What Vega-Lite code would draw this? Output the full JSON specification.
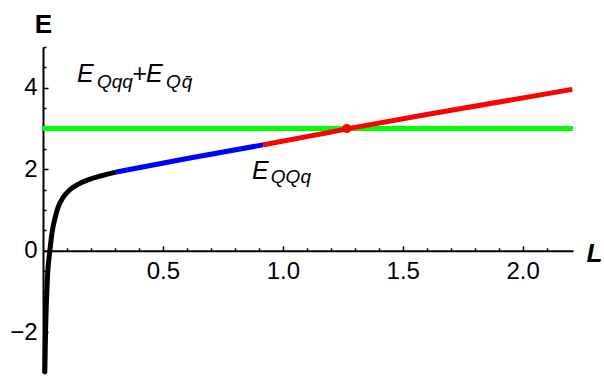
{
  "$schema": "https://vega.github.io/schema/vega-lite/v6.json",
  "width": 530,
  "height": 326,
  "autosize": "none",
  "padding": {"left": 43, "top": 47, "right": 31, "bottom": 6},
  "background": "white",
  "config": {"view": {"stroke": null}, "font": "Liberation Sans"},
  "datasets": {
    "level": [{"L0": 0, "L1": 2.21, "E": 3.0}],
    "curve": [
      {"L": 0.0075, "E": -3.0, "seg": "k"},
      {"L": 0.009, "E": -2.5, "seg": "k"},
      {"L": 0.011, "E": -1.9, "seg": "k"},
      {"L": 0.014, "E": -1.3, "seg": "k"},
      {"L": 0.018, "E": -0.72, "seg": "k"},
      {"L": 0.022, "E": -0.35, "seg": "k"},
      {"L": 0.025, "E": -0.19, "seg": "k"},
      {"L": 0.029, "E": 0.02, "seg": "k"},
      {"L": 0.0375, "E": 0.44, "seg": "k"},
      {"L": 0.049, "E": 0.77, "seg": "k"},
      {"L": 0.0625, "E": 1.06, "seg": "k"},
      {"L": 0.083, "E": 1.3, "seg": "k"},
      {"L": 0.111, "E": 1.49, "seg": "k"},
      {"L": 0.146, "E": 1.63, "seg": "k"},
      {"L": 0.1875, "E": 1.74, "seg": "k"},
      {"L": 0.243, "E": 1.84, "seg": "k"},
      {"L": 0.305, "E": 1.93, "seg": "k"},
      {"L": 0.305, "E": 1.93, "seg": "b"},
      {"L": 0.6125, "E": 2.275, "seg": "b"},
      {"L": 0.918, "E": 2.6, "seg": "b"},
      {"L": 0.918, "E": 2.6, "seg": "r"},
      {"L": 1.1, "E": 2.8, "seg": "r"},
      {"L": 1.267, "E": 2.99, "seg": "r"},
      {"L": 1.654, "E": 3.4, "seg": "r"},
      {"L": 2.207, "E": 3.96, "seg": "r"}
    ],
    "cross": [{"L": 1.267, "E": 3.0}],
    "annMain": [
      {"t": "E", "L": 0.142, "E": 4.146},
      {"t": "+", "L": 0.371, "E": 4.146},
      {"t": "E", "L": 0.429, "E": 4.146},
      {"t": "E", "L": 0.871, "E": 1.756}
    ],
    "annSub": [
      {"t": "Qqq", "L": 0.225, "E": 4.0},
      {"t": "Q", "L": 0.5125, "E": 4.0},
      {"t": "q̄", "L": 0.579, "E": 4.0},
      {"t": "QQq", "L": 0.95, "E": 1.659}
    ]
  },
  "resolve": {"axis": {"x": "independent", "y": "independent"}},
  "layer": [
    {
      "data": {"name": "level"},
      "mark": {"type": "rule", "color": "#00ff00", "strokeWidth": 5},
      "encoding": {
        "x": {
          "field": "L0", "type": "quantitative",
          "scale": {"domain": [0, 2.21], "nice": false, "zero": false},
          "axis": {
            "orient": "top",
            "offset": -203.75,
            "values": [0.5, 1, 1.5, 2],
            "format": ".1f",
            "labelOverlap": false,
            "labelFlush": false,
            "labelFontSize": 24,
            "labelColor": "black",
            "labelBaseline": "top",
            "labelPadding": -14,
            "ticks": true,
            "tickSize": 5,
            "tickColor": "black",
            "tickWidth": 1.5,
            "domainColor": "black",
            "domainWidth": 2,
            "grid": false,
            "title": "L",
            "titleFontSize": 26,
            "titleFontWeight": "bold",
            "titleFontStyle": "italic",
            "titleColor": "black",
            "titleX": 543,
            "titleY": 11,
            "titleAlign": "left",
            "titleBaseline": "alphabetic",
            "titleAngle": 0
          }
        },
        "x2": {"field": "L1"},
        "y": {
          "field": "E", "type": "quantitative",
          "scale": {"domain": [-3, 5], "nice": false, "zero": false},
          "axis": {
            "orient": "right",
            "offset": -530,
            "values": [-2, 0, 2, 4],
            "format": "d",
            "labelOverlap": false,
            "labelFlush": false,
            "labelFontSize": 24,
            "labelColor": "black",
            "labelAlign": "right",
            "labelPadding": -11,
            "ticks": true,
            "tickSize": 5,
            "tickColor": "black",
            "tickWidth": 1.5,
            "domainColor": "black",
            "domainWidth": 2,
            "grid": false,
            "title": "E",
            "titleFontSize": 26,
            "titleFontWeight": "bold",
            "titleColor": "black",
            "titleAngle": 0,
            "titleX": 0,
            "titleY": -15,
            "titleAlign": "center",
            "titleBaseline": "alphabetic"
          }
        }
      }
    },
    {
      "data": {"name": "curve"},
      "mark": {"type": "line", "strokeWidth": 5, "interpolate": "monotone"},
      "encoding": {
        "x": {
          "field": "L", "type": "quantitative",
          "axis": {
            "orient": "top",
            "offset": -203.75,
            "values": [0.1, 0.2, 0.3, 0.4, 0.6, 0.7, 0.8, 0.9, 1.1, 1.2, 1.3, 1.4, 1.6, 1.7, 1.8, 1.9, 2.1],
            "labels": false,
            "domain": false,
            "grid": false,
            "ticks": true,
            "tickSize": 3,
            "tickColor": "black",
            "tickWidth": 1.5,
            "title": null
          }
        },
        "y": {
          "field": "E", "type": "quantitative",
          "axis": {
            "orient": "right",
            "offset": -530,
            "values": [-3, -2.5, -1.5, -1, -0.5, 0.5, 1, 1.5, 2.5, 3, 3.5, 4.5, 5],
            "labels": false,
            "domain": false,
            "grid": false,
            "ticks": true,
            "tickSize": 3,
            "tickColor": "black",
            "tickWidth": 1.5,
            "title": null
          }
        },
        "color": {"field": "seg", "type": "nominal", "scale": {"domain": ["k", "b", "r"], "range": ["#000000", "#0000ff", "#ff0000"]}, "legend": null},
        "order": {"field": "L", "type": "quantitative"}
      }
    },
    {
      "data": {"name": "cross"},
      "mark": {"type": "circle", "color": "#ff0000", "opacity": 1, "size": 85},
      "encoding": {
        "x": {"field": "L", "type": "quantitative", "axis": null},
        "y": {"field": "E", "type": "quantitative", "axis": null}
      }
    },
    {
      "data": {"name": "annMain"},
      "mark": {"type": "text", "fontSize": 25, "fontStyle": "italic", "align": "left", "baseline": "alphabetic", "color": "black"},
      "encoding": {
        "x": {"field": "L", "type": "quantitative", "axis": null},
        "y": {"field": "E", "type": "quantitative", "axis": null},
        "text": {"field": "t"}
      }
    },
    {
      "data": {"name": "annSub"},
      "mark": {"type": "text", "fontSize": 19, "fontStyle": "italic", "align": "left", "baseline": "alphabetic", "color": "black"},
      "encoding": {
        "x": {"field": "L", "type": "quantitative", "axis": null},
        "y": {"field": "E", "type": "quantitative", "axis": null},
        "text": {"field": "t"}
      }
    }
  ]
}
